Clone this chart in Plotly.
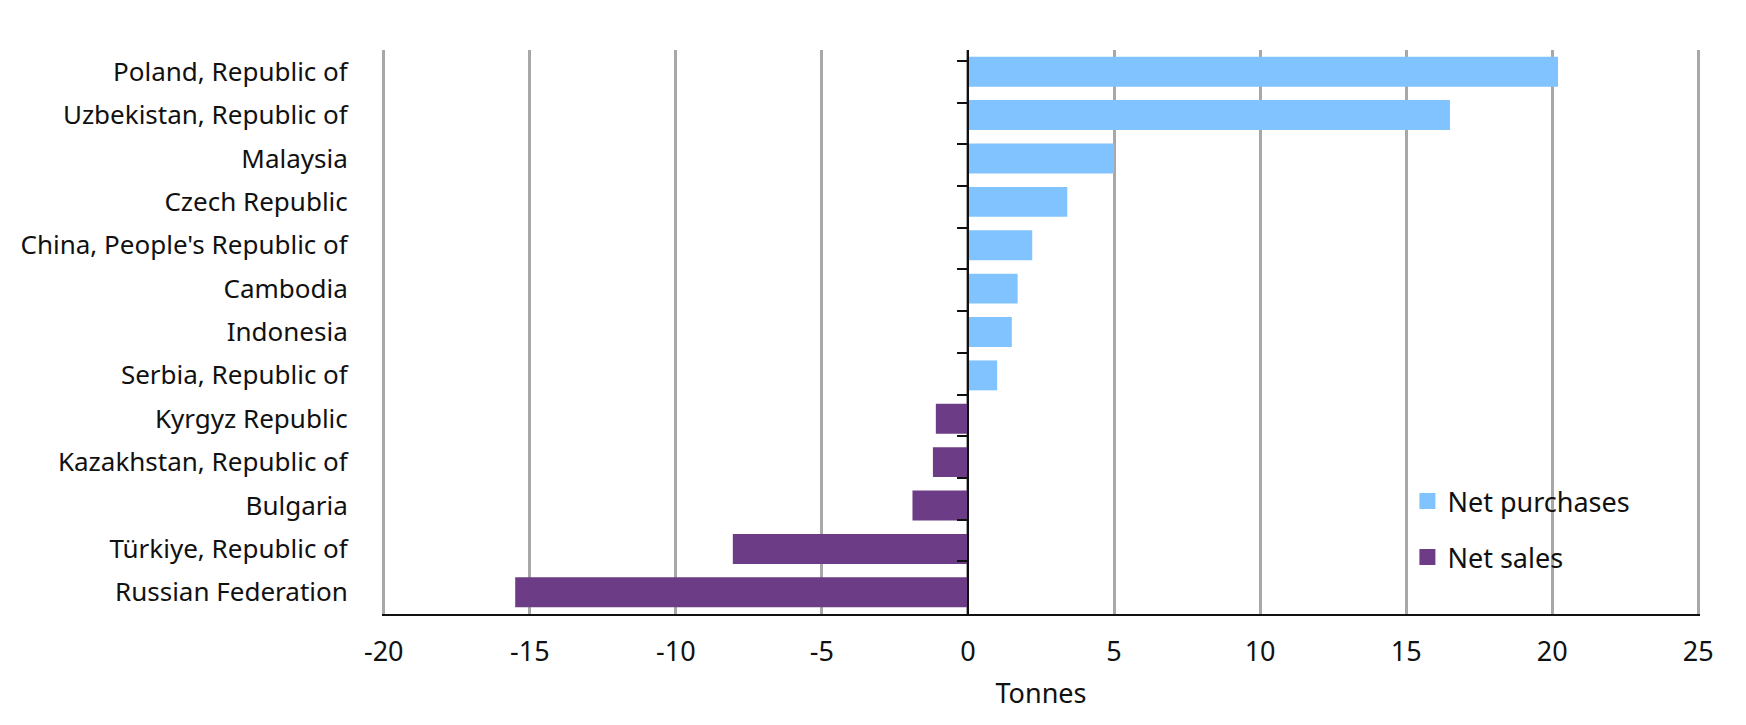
import plotly.graph_objects as go

countries = [
    "Poland, Republic of",
    "Uzbekistan, Republic of",
    "Malaysia",
    "Czech Republic",
    "China, People's Republic of",
    "Cambodia",
    "Indonesia",
    "Serbia, Republic of",
    "Kyrgyz Republic",
    "Kazakhstan, Republic of",
    "Bulgaria",
    "Türkiye, Republic of",
    "Russian Federation",
]
purchases_countries = countries[:8]
purchases_values = [20.2, 16.5, 5.0, 3.4, 2.2, 1.7, 1.5, 1.0]
sales_countries = countries[8:]
sales_values = [-1.1, -1.2, -1.9, -8.05, -15.5]
x_ticks = [-20, -15, -10, -5, 0, 5, 10, 15, 20, 25]

BLUE = "#80C3FE"
PURPLE = "#6C3D86"
FONT = "Noto Sans"
FS = 27

fig = go.Figure()
fig.add_trace(go.Bar(
    y=purchases_countries, x=purchases_values, orientation="h",
    name="Net purchases", marker=dict(color=BLUE, line=dict(width=0)),
    showlegend=False,
))
fig.add_trace(go.Bar(
    y=sales_countries, x=sales_values, orientation="h",
    name="Net sales", marker=dict(color=PURPLE, line=dict(width=0)),
    showlegend=False,
))
# legend entries (square swatches)
fig.add_trace(go.Scatter(
    x=[None], y=[None], mode="markers", name="Net purchases",
    marker=dict(symbol="square", size=17, color=BLUE), legendgroup="a",
))
fig.add_trace(go.Scatter(
    x=[None], y=[None], mode="markers", name="Net sales",
    marker=dict(symbol="square", size=17, color=PURPLE), legendgroup="b",
))
# helper invisible trace so the zero-positioned category axis gets its ticks
fig.add_trace(go.Scatter(
    y=countries, x=[0] * len(countries), yaxis="y2", mode="markers",
    marker=dict(opacity=0), showlegend=False, hoverinfo="skip",
))

fig.update_layout(
    width=1746, height=725,
    margin=dict(l=374, r=54, t=42, b=119, autoexpand=False),
    paper_bgcolor="white", plot_bgcolor="white",
    font=dict(family=FONT, size=FS, color="#111111"),
    barmode="relative", bargap=0.31,
    showlegend=True,
    legend=dict(
        x=0.778, y=0.243, xanchor="left", yanchor="top",
        traceorder="grouped", tracegroupgap=18,
        font=dict(family=FONT, size=FS, color="#111111"),
        bgcolor="rgba(0,0,0,0)",
    ),
    xaxis=dict(
        range=[-20.06, 25.06], tickvals=x_ticks, ticktext=[str(v) for v in x_ticks],
        showgrid=True, gridcolor="#A8A8A8", gridwidth=2.5,
        zeroline=False, automargin=False,
        showline=True, linecolor="#111111", linewidth=1.5,
        ticks="outside", ticklen=13, tickcolor="rgba(0,0,0,0)",
        tickfont=dict(size=FS),
        title=dict(text="Tonnes", font=dict(size=FS), standoff=16),
        fixedrange=True,
    ),
    yaxis=dict(
        type="category", categoryarray=countries, autorange="reversed",
        showgrid=False, zeroline=False, showline=False, automargin=False,
        ticks="outside", ticklen=28, tickcolor="rgba(0,0,0,0)",
        tickfont=dict(size=26),
        fixedrange=True,
    ),
    yaxis2=dict(
        type="category", categoryarray=countries, autorange="reversed",
        overlaying="y", anchor="free", position=20.06 / 45.12, side="left",
        showgrid=False, zeroline=False, automargin=False,
        showline=True, linecolor="#111111", linewidth=1.5,
        ticks="outside", tickson="boundaries", ticklen=10,
        tickcolor="#111111", tickwidth=1.5,
        showticklabels=False, fixedrange=True,
    ),
)

fig.write_html("out.html")
